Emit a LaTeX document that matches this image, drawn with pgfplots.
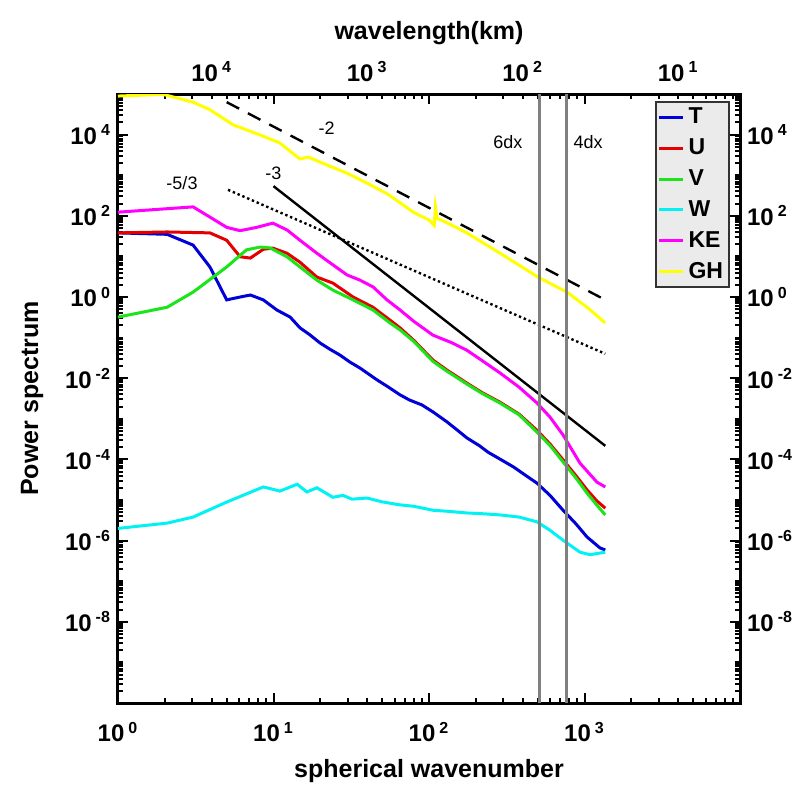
\documentclass[border=0pt]{standalone}
\usepackage{fontspec}
\setmainfont{Liberation Sans}
\usepackage{pgfplots}
\pgfplotsset{compat=1.18}

\newcommand\lab[1]{\textbf{10\,\textsuperscript{#1}}}

% minor ticks, built once
\def\yminor{}
\foreach \d in {-10,...,4}{\foreach \k in {2,...,9}{\xdef\yminor{\yminor\k e\d,}}}
\foreach \d in {-9,-7,...,3}{\xdef\yminor{\yminor 1e\d,}}
\xdef\yminor{\yminor 1e-10}
\def\xminor{}
\foreach \d in {0,...,3}{\foreach \k in {2,...,9}{\xdef\xminor{\xminor\k e\d,}}}
\xdef\xminor{\xminor 1e4}

\begin{document}
\begin{tikzpicture}
\begin{axis}[name=main, scale only axis, width=311pt, height=304.5pt,
  xmode=log, ymode=log, xmin=1, xmax=1e4, ymin=1e-10, ymax=1e5,
  xtick={1,10,100,1000}, xticklabels={\lab{0},\lab{1},\lab{2},\lab{3}},
  ytick={1e-8,1e-6,1e-4,1e-2,1,1e2,1e4},
  yticklabels={\lab{-8},\lab{-6},\lab{-4},\lab{-2},\lab{0},\lab{2},\lab{4}},
  minor xtick/.expanded=\xminor, minor ytick/.expanded=\yminor,
  tick align=inside, major tick length=5pt, minor tick length=2.5pt,
  every tick/.append style={line width=1pt, black},
  axis line style={line width=1.5pt},
  tick label style={font=\fontsize{12}{14}\selectfont\bfseries},
  xticklabel style={yshift=-6pt},
  xlabel={spherical wavenumber}, ylabel={Power spectrum},
  label style={font=\fontsize{12.5}{14}\selectfont\bfseries},
  xlabel style={at={(rel axis cs:0.5,0)}, anchor=base, yshift=-37pt},
  ylabel shift=4pt,
  legend style={at={(rel axis cs:1,1)}, anchor=north east, xshift=-5pt, yshift=-3.5pt,
    fill=black!8, draw=black!80, line width=1pt, inner sep=1pt, row sep=2pt,
    font=\fontsize{11.5}{13}\selectfont\bfseries},
  legend cell align=left,
  legend image code/.code={\draw[#1, line width=1.5pt] (0pt,0pt) -- (12pt,0pt);},
]
\coordinate (bl) at (rel axis cs:0,0);
\coordinate (tr) at (rel axis cs:1,1);

% T
\addplot[color={rgb,1:red,0;green,0;blue,0.85}, line width=1.5pt] coordinates {
(1,38)(2.07,35)(3.04,19)(3.9,5.5)(5.0,0.85)(6.1,1.0)(7.1,1.12)(8.6,0.85)
(10.5,0.48)(12.8,0.32)(14.8,0.174)(17,0.12)(19.9,0.074)(23,0.052)(26.8,0.037)
(31,0.025)(36,0.0178)(46.3,9.1e-3)(55,6.0e-3)(65.1,3.9e-3)(75,2.9e-3)(90,2.2e-3)
(106,1.48e-3)(130,8.5e-4)(150,5.5e-4)(175,3.4e-4)(210,2.2e-4)(240,1.5e-4)(286,1.02e-4)
(350,6.5e-5)(420,4.0e-5)(495,2.6e-5)(600,1.3e-5)(728,5.6e-6)(880,2.6e-6)(1038,1.23e-6)
(1258,6.6e-7)(1360,5.9e-7)};
% U
\addplot[color={rgb,1:red,0.9;green,0;blue,0}, line width=1.5pt] coordinates {
(1,38)(2.07,40)(3.9,38)(5.0,25)(6.1,9.8)(7.1,9.1)(8.6,15)(9.9,16)(12.2,12)
(14.8,7.2)(19.0,3.1)(24.1,2.2)(32.5,1.0)(43.6,0.56)(56.1,0.27)(65.1,0.174)
(80,0.085)(106,0.028)(130,0.016)(175,7.6e-3)(220,4.4e-3)(286,2.57e-3)(380,1.3e-3)
(495,5.2e-4)(600,2.4e-4)(728,9.8e-5)(880,4.0e-5)(1038,1.78e-5)(1200,9.5e-6)(1360,6.3e-6)};
% V
\addplot[color={rgb,1:red,0.1;green,0.9;blue,0.1}, line width=1.5pt] coordinates {
(1,0.32)(2.07,0.56)(3.04,1.32)(5.0,5.5)(6.7,14.5)(8.2,17)(9.5,16.2)(12.2,9.8)
(14.8,5.5)(19.0,2.6)(24.1,1.48)(32.5,0.85)(43.6,0.48)(56.1,0.23)(65.1,0.155)
(80,0.08)(106,0.026)(130,0.015)(175,7.2e-3)(220,4.2e-3)(286,2.45e-3)(380,1.25e-3)
(495,4.7e-4)(600,2.2e-4)(728,8.7e-5)(880,3.5e-5)(1038,1.48e-5)(1200,7.5e-6)(1360,4.3e-6)};
% W
\addplot[color={rgb,1:red,0;green,0.95;blue,0.95}, line width=1.5pt] coordinates {
(1,2.0e-6)(2.07,2.7e-6)(3.04,3.8e-6)(5.0,8.9e-6)(8.6,2.1e-5)(11.0,1.66e-5)
(14.2,2.45e-5)(16.4,1.58e-5)(19.0,2.0e-5)(24.1,1.17e-5)(28,1.3e-5)(32,1.05e-5)
(39.9,1.12e-5)(50,9.0e-6)(65.1,7.6e-6)(80,7.0e-6)(106,5.6e-6)(130,5.3e-6)
(175,4.8e-6)(220,4.6e-6)(286,4.3e-6)(380,3.8e-6)(495,2.9e-6)(600,1.8e-6)
(728,1.02e-6)(935,5.2e-7)(1084,4.5e-7)(1360,5.2e-7)};
% KE
\addplot[color={rgb,1:red,1;green,0;blue,1}, line width=1.5pt] coordinates {
(1,123)(3.04,166)(3.9,93)(5.0,52)(6.1,43)(7.8,52)(9.9,66)(12.2,45)(14.8,25)
(19.0,12)(24.1,6.2)(29.7,3.5)(36,2.6)(43.6,1.78)(53.7,0.85)(65.1,0.48)(80,0.25)
(106,0.115)(140,0.075)(175,0.049)(220,0.027)(286,0.0135)(380,6.0e-3)(495,2.45e-3)
(600,1.1e-3)(728,4.0e-4)(935,8.1e-5)(1203,2.75e-5)(1360,2.1e-5)};
% GH
\addplot[color={rgb,1:red,1;green,1;blue,0}, line width=1.5pt] coordinates {
(1,8.9e4)(1.95,9.8e4)(3.04,6.3e4)(3.9,4.1e4)(5.5,1.74e4)(8.2,9.8e3)(11.0,6.2e3)
(14.8,2.5e3)(16.7,2.8e3)(22.1,1.78e3)(29.7,1.12e3)(39.9,640)(53.7,350)(65.1,210)
(80,120)(100,79)(108,58)(110,166)(113,85)(120,79)(175,38)(286,12)(502,3.1)
(771,1.32)(1038,0.56)(1360,0.23)};

\legend{T,U,V,W,KE,GH}

% reference slopes
\addplot[black, line width=1.2pt, dash pattern=on 7pt off 5pt, forget plot] coordinates {(5,6.3e4)(1300,0.93)};
\addplot[black, line width=1.2pt, dash pattern=on 1.2pt off 1.4pt, forget plot] coordinates {(5.1,437)(1360,0.040)};
\addplot[black, line width=1.2pt, forget plot] coordinates {(10,537)(1360,2.16e-4)};
% 6dx, 4dx
\addplot[black!50, line width=1.4pt, forget plot] coordinates {(512,1e-10)(512,1e5)};
\addplot[black!50, line width=1.4pt, forget plot] coordinates {(768,1e-10)(768,1e5)};

\node[font=\fontsize{9}{10}\selectfont] at (axis cs:22,1.45e4) {-2};
\node[font=\fontsize{9}{10}\selectfont] at (axis cs:10,1.1e3) {-3};
\node[font=\fontsize{9}{10}\selectfont] at (axis cs:2.58,650) {-5/3};
\node[font=\fontsize{9}{10}\selectfont] at (axis cs:322,6600) {6dx};
\node[font=\fontsize{9}{10}\selectfont] at (axis cs:1054,6600) {4dx};
\end{axis}

% top and right labels
\begin{axis}[scale only axis, width=311pt, height=304.5pt,
  xmode=log, ymode=log, xmin=1, xmax=1e4, ymin=1e-10, ymax=1e5,
  axis line style={draw=none}, major tick length=0pt, minor tick length=0pt,
  xtick={4.003,40.03,400.3,4003}, xticklabels={\lab{4},\lab{3},\lab{2},\lab{1}},
  xticklabel pos=upper,
  ytick={1e-8,1e-6,1e-4,1e-2,1,1e2,1e4},
  yticklabels={\lab{-8},\lab{-6},\lab{-4},\lab{-2},\lab{0},\lab{2},\lab{4}},
  yticklabel pos=right,
  tick label style={font=\fontsize{12}{14}\selectfont\bfseries},
  xticklabel style={yshift=2.5pt},
  xlabel={wavelength(km)},
  xlabel style={font=\fontsize{12.5}{14}\selectfont\bfseries, at={(rel axis cs:0.5,1)}, anchor=south, yshift=21pt},
]
\end{axis}

\pgfresetboundingbox
\path ([shift={(-59pt,-40.5pt)}]bl) rectangle ([shift={(32.5pt,47pt)}]tr);
\end{tikzpicture}
\end{document}
